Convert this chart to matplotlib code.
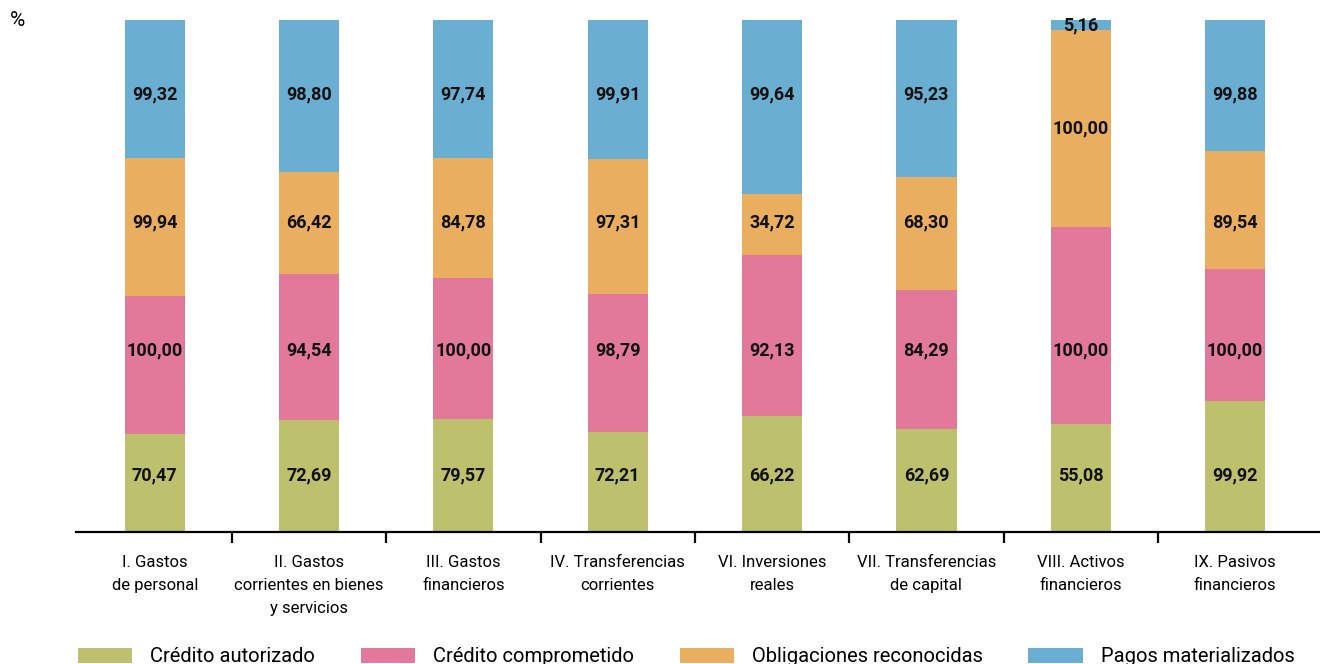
import matplotlib.pyplot as plt
import numpy as np

plt.rcParams['font.family'] = ['Roboto', 'DejaVu Sans']

categories = [
    "I. Gastos\nde personal",
    "II. Gastos\ncorrientes en bienes\ny servicios",
    "III. Gastos\nfinancieros",
    "IV. Transferencias\ncorrientes",
    "VI. Inversiones\nreales",
    "VII. Transferencias\nde capital",
    "VIII. Activos\nfinancieros",
    "IX. Pasivos\nfinancieros",
]
credito_autorizado = [70.47, 72.69, 79.57, 72.21, 66.22, 62.69, 55.08, 99.92]
credito_comprometido = [100.00, 94.54, 100.00, 98.79, 92.13, 84.29, 100.00, 100.00]
obligaciones_reconocidas = [99.94, 66.42, 84.78, 97.31, 34.72, 68.30, 100.00, 89.54]
pagos_materializados = [99.32, 98.80, 97.74, 99.91, 99.64, 95.23, 5.16, 99.88]

series = [
    ("Crédito autorizado", credito_autorizado, "#BDC06D"),
    ("Crédito comprometido", credito_comprometido, "#E2799A"),
    ("Obligaciones reconocidas", obligaciones_reconocidas, "#E9AE60"),
    ("Pagos materializados", pagos_materializados, "#6AAFD2"),
]
# preferred label heights (percent of bar) per series, as in the original layout
label_levels = [11, 35.5, 60.5, 85.5]

values = np.array([s[1] for s in series])
totals = values.sum(axis=0)
x = np.arange(len(categories))

fig = plt.figure(figsize=(13.2, 6.64), dpi=100)
ax = fig.add_axes([76 / 1320, 1 - 532 / 664, 1 - 76 / 1320, (532 - 20) / 664])

bottom = np.zeros(len(categories))
for (name, vals, color), level in zip(series, label_levels):
    share = np.array(vals) / totals * 100
    ax.bar(x, share, 0.39, bottom=bottom, color=color, label=name)
    for xi, b, h, v in zip(x, bottom, share, vals):
        y = level if b + 5 < level < b + h - 5 else b + h / 2
        ax.text(xi, y, f"{v:.2f}".replace(".", ","), ha="center", va="center",
                fontsize=13, fontweight="bold", color="#111111")
    bottom += share

ax.set_xlim(-0.51, 7.55)
ax.set_ylim(0, 100)
for s in ["left", "right", "top"]:
    ax.spines[s].set_visible(False)
ax.spines["bottom"].set_linewidth(1.6)
ax.set_yticks([])
ax.set_xticks(x)
ax.set_xticklabels(categories, fontsize=12, linespacing=1.65)
ax.tick_params(axis="x", which="major", length=0, pad=16.5)
ax.set_xticks(x[:-1] + 0.5, minor=True)
ax.tick_params(axis="x", which="minor", length=8, width=1.6, direction="out")

fig.text(10 / 1320, 1 - 21 / 664, "%", fontsize=15, va="center")

fig.legend(loc="center left", bbox_to_anchor=(78 / 1320, 1 - 657 / 664), ncol=4,
           frameon=False, fontsize=14.5, handlelength=2.7, handleheight=0.8,
           handletextpad=0.9, columnspacing=2.25, borderpad=0, borderaxespad=0)

plt.savefig("out.png", dpi=100)
